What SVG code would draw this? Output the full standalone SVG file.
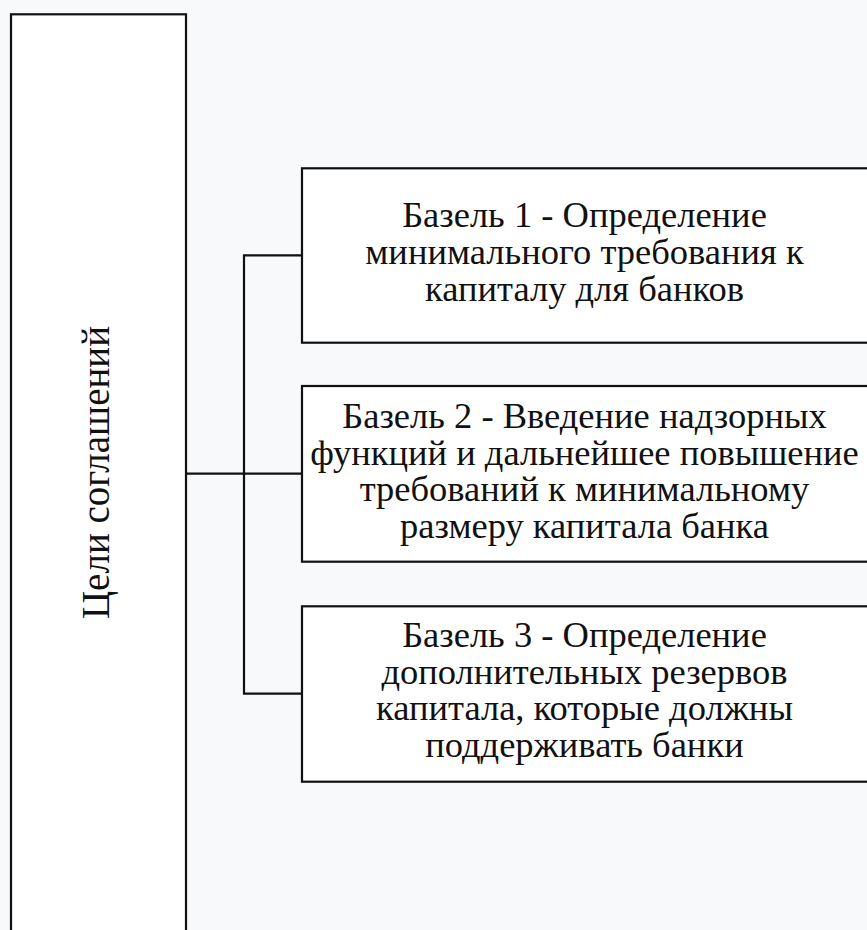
<svg xmlns="http://www.w3.org/2000/svg" width="867" height="930" viewBox="0 0 867 930">
  <style>
    .box { fill: #ffffff; stroke: #111111; stroke-width: 2.2; }
    .wire { fill: none; stroke: #111111; stroke-width: 2.2; }
    .lbl { font-family: "Liberation Serif", "Times New Roman", serif; font-size: 36.5px; fill: #111111; text-anchor: middle; }
    .side { font-size: 39px; }
  </style>
  <rect x="0" y="0" width="867" height="930" fill="#f8f9fb"/>

  <g id="connectors">
    <line class="wire" x1="186" y1="473.7" x2="302" y2="473.7"/>
    <polyline class="wire" points="302,255.3 244,255.3 244,693.7 302,693.7"/>
  </g>

  <g id="goals">
    <rect class="box" x="11" y="14.3" width="175" height="1000"/>
    <text class="lbl side" transform="translate(109 472.5) rotate(-90)" x="0" y="0">Цели соглашений</text>
  </g>

  <g id="basel1">
    <rect class="box" x="302" y="168.3" width="600" height="174.4"/>
    <text class="lbl" x="584.5" y="227">Базель 1 - Определение</text>
    <text class="lbl" x="584.5" y="264">минимального требования к</text>
    <text class="lbl" x="584.5" y="301">капиталу для банков</text>
  </g>

  <g id="basel2">
    <rect class="box" x="302" y="386" width="600" height="175.7"/>
    <text class="lbl" x="584.5" y="428">Базель 2 - Введение надзорных</text>
    <text class="lbl" x="584.5" y="465">функций и дальнейшее повышение</text>
    <text class="lbl" x="584.5" y="501">требований к минимальному</text>
    <text class="lbl" x="584.5" y="538">размеру капитала банка</text>
  </g>

  <g id="basel3">
    <rect class="box" x="302" y="606.3" width="600" height="175.4"/>
    <text class="lbl" x="584.5" y="647">Базель 3 - Определение</text>
    <text class="lbl" x="584.5" y="684">дополнительных резервов</text>
    <text class="lbl" x="584.5" y="720">капитала, которые должны</text>
    <text class="lbl" x="584.5" y="757">поддерживать банки</text>
  </g>
</svg>
